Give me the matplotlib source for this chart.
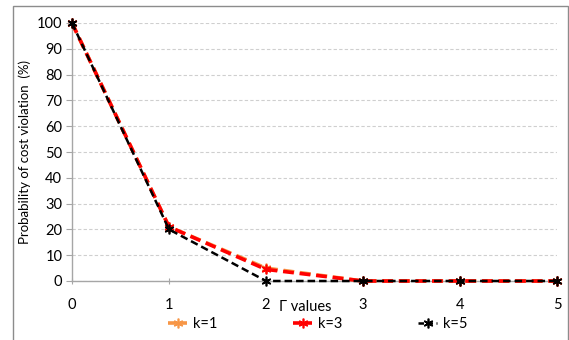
import matplotlib
matplotlib.use("Agg")
import matplotlib.pyplot as plt
from matplotlib.patches import Rectangle
from matplotlib.lines import Line2D

plt.rcParams['font.family'] = ['Lato', 'DejaVu Sans']

gamma = [0, 1, 2, 3, 4, 5]
k1 = [100, 21, 5, 0, 0, 0]
k3 = [100, 21, 4.5, 0, 0, 0]
k5 = [100, 20, 0, 0, 0, 0]
series = [("k=1", k1, "#F79646", 2.6), ("k=3", k3, "#FF0000", 2.6), ("k=5", k5, "#000000", 1.8)]
yticks = list(range(0, 101, 10))

fig = plt.figure(figsize=(5.69, 3.40), dpi=100)
ax = fig.add_axes([72 / 569, 1 - 281 / 340, (557 - 72) / 569, (281 - 23) / 340])

star = (6, 2, 0)
handles = []
for label, vals, color, lw in series:
    ax.plot(gamma, vals, linestyle=(0, (3, 1.6)), color=color, linewidth=lw,
            marker=star, markersize=7, markeredgewidth=1.2,
            markeredgecolor=color, clip_on=False, zorder=3)
    handles.append(Line2D([], [], linestyle=(0, (2.2, 1.4)), color=color, linewidth=lw,
                          marker=star, markersize=7, markeredgewidth=1.2,
                          markeredgecolor=color, label=label))

ax.set_xlim(0, 5)
ax.set_ylim(0, 100)
ax.set_yticks(yticks)
ax.set_xticks(gamma)
ax.grid(axis='y', color='#CFCFCF', linestyle=(0, (3, 2)), linewidth=0.8)
ax.set_axisbelow(True)
for side in ('top', 'right'):
    ax.spines[side].set_visible(False)
for side in ('left', 'bottom'):
    ax.spines[side].set_color('#A6A6A6')
    ax.spines[side].set_linewidth(1.0)
ax.tick_params(axis='y', length=4, color='#A6A6A6', labelsize=10.5, pad=3)
ax.tick_params(axis='x', length=5, color='#A6A6A6', labelsize=10.5, pad=10, direction='inout')
ax.set_ylabel("Probability of cost violation  (%)", fontsize=9.5, labelpad=4)

fig.text(305 / 569, 1 - 307 / 340, "Γ values", ha='center', va='center', fontsize=10.5)

leg = fig.legend(handles=handles, loc='center', bbox_to_anchor=(318 / 569, 1 - 324 / 340),
                 ncol=3, frameon=False, fontsize=10.5, handlelength=1.3,
                 columnspacing=5.2, handletextpad=0.4)

fig.patches.append(Rectangle((13 / 569, -0.01), 555 / 569, 1 - 6 / 340 + 0.01,
                             transform=fig.transFigure, fill=False,
                             edgecolor='#8C8C8C', linewidth=1.0))

fig.savefig("out.png", dpi=100)
